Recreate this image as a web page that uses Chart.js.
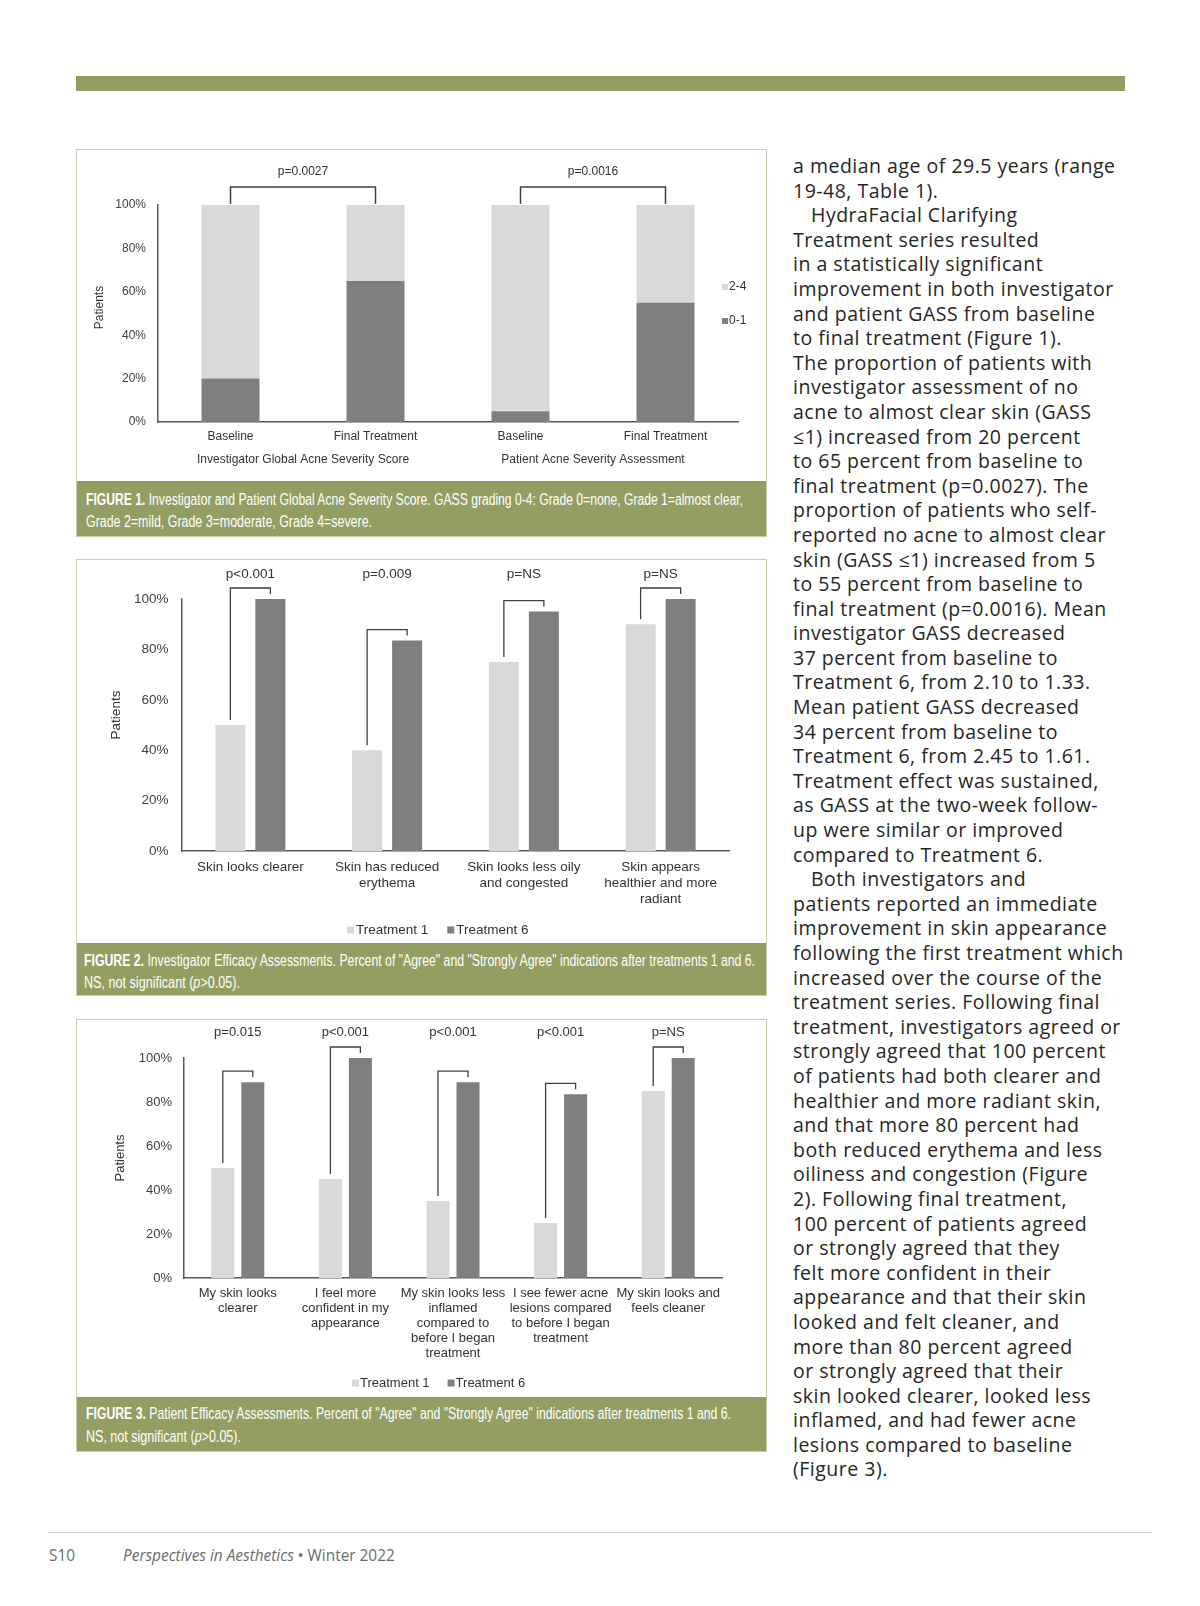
<!DOCTYPE html>
<html>
<head>
<meta charset="utf-8">
<script src="https://cdn.jsdelivr.net/npm/chart.js@4.4.1/dist/chart.umd.min.js"></script>
<style>
body { margin: 0; width: 1200px; height: 1606px; background: #fff; position: relative; overflow: hidden; font-family: "Liberation Sans", Arial, sans-serif; }
.topbar { position: absolute; left: 76px; top: 76px; width: 1049px; height: 15px; background: #949e62; }
.fig { position: absolute; left: 76px; width: 689px; border: 1px solid #c9ccad; background: #fff; }
.fig canvas { position: absolute; left: 0; top: 0; }
.cap { position: absolute; left: 0; width: 689px; background: #949e62; color: #fff; }
.cap span.l { position: absolute; display: inline-block; white-space: nowrap; transform-origin: 0 50%; font-family: "Liberation Sans Narrow", "Liberation Sans", Arial, sans-serif; font-size: 16px; line-height: 20px; }
.body { position: absolute; left: 793px; top: 154px; font-family: "Open Sans", sans-serif; font-size: 19.5px; letter-spacing: 0.5px; line-height: 24.6px; color: #262626; white-space: nowrap; }
.body .in { padding-left: 18px; }
.rule { position: absolute; left: 48px; top: 1532px; width: 1104px; height: 1px; background: #cfcfcf; }
.foot { position: absolute; top: 1546px; font-family: "Open Sans", sans-serif; font-size: 15.4px; line-height: 20px; color: #6b6b6b; white-space: nowrap; }
</style>
</head>
<body>
<div class="topbar"></div>

<div class="fig" style="top:149px;height:386px;">
  <canvas id="fig1" width="689" height="331"></canvas>
  <div class="cap" style="top:331px;height:55px;">
    <span class="l" data-w="657" style="left:9px;top:9px;"><b>FIGURE 1.</b> Investigator and Patient Global Acne Severity Score. GASS grading 0-4: Grade 0=none, Grade 1=almost clear,</span>
    <span class="l" data-w="286" style="left:9px;top:31px;">Grade 2=mild, Grade 3=moderate, Grade 4=severe.</span>
  </div>
</div>

<div class="fig" style="top:559px;height:435px;">
  <canvas id="fig2" width="689" height="383"></canvas>
  <div class="cap" style="top:383px;height:52px;">
    <span class="l" data-w="671" style="left:7px;top:8px;"><b>FIGURE 2.</b> Investigator Efficacy Assessments. Percent of "Agree" and "Strongly Agree" indications after treatments 1 and 6.</span>
    <span class="l" data-w="156" style="left:7px;top:30px;">NS, not significant (<i>p</i>&gt;0.05).</span>
  </div>
</div>

<div class="fig" style="top:1019px;height:431px;">
  <canvas id="fig3" width="689" height="377"></canvas>
  <div class="cap" style="top:377px;height:54px;">
    <span class="l" data-w="645" style="left:9px;top:7px;"><b>FIGURE 3.</b> Patient Efficacy Assessments. Percent of "Agree" and "Strongly Agree" indications after treatments 1 and 6.</span>
    <span class="l" data-w="155" style="left:9px;top:30px;">NS, not significant (<i>p</i>&gt;0.05).</span>
  </div>
</div>

<div class="body">
<div>a median age of 29.5 years (range</div>
<div>19-48, Table 1).</div>
<div class="in">HydraFacial Clarifying</div>
<div>Treatment series resulted</div>
<div>in a statistically significant</div>
<div>improvement in both investigator</div>
<div>and patient GASS from baseline</div>
<div>to final treatment (Figure 1).</div>
<div>The proportion of patients with</div>
<div>investigator assessment of no</div>
<div>acne to almost clear skin (GASS</div>
<div>≤1) increased from 20 percent</div>
<div>to 65 percent from baseline to</div>
<div>final treatment (p=0.0027). The</div>
<div>proportion of patients who self-</div>
<div>reported no acne to almost clear</div>
<div>skin (GASS ≤1) increased from 5</div>
<div>to 55 percent from baseline to</div>
<div>final treatment (p=0.0016). Mean</div>
<div>investigator GASS decreased</div>
<div>37 percent from baseline to</div>
<div>Treatment 6, from 2.10 to 1.33.</div>
<div>Mean patient GASS decreased</div>
<div>34 percent from baseline to</div>
<div>Treatment 6, from 2.45 to 1.61.</div>
<div>Treatment effect was sustained,</div>
<div>as GASS at the two-week follow-</div>
<div>up were similar or improved</div>
<div>compared to Treatment 6.</div>
<div class="in">Both investigators and</div>
<div>patients reported an immediate</div>
<div>improvement in skin appearance</div>
<div>following the first treatment which</div>
<div>increased over the course of the</div>
<div>treatment series. Following final</div>
<div>treatment, investigators agreed or</div>
<div>strongly agreed that 100 percent</div>
<div>of patients had both clearer and</div>
<div>healthier and more radiant skin,</div>
<div>and that more 80 percent had</div>
<div>both reduced erythema and less</div>
<div>oiliness and congestion (Figure</div>
<div>2). Following final treatment,</div>
<div>100 percent of patients agreed</div>
<div>or strongly agreed that they</div>
<div>felt more confident in their</div>
<div>appearance and that their skin</div>
<div>looked and felt cleaner, and</div>
<div>more than 80 percent agreed</div>
<div>or strongly agreed that their</div>
<div>skin looked clearer, looked less</div>
<div>inflamed, and had fewer acne</div>
<div>lesions compared to baseline</div>
<div>(Figure 3).</div>
</div>

<div class="rule"></div>
<div class="foot" style="left:49px;">S10</div>
<div class="foot" style="left:123px;"><i>Perspectives in Aesthetics</i> • Winter 2022</div>

<script>
// tick labels shared by the three charts
const yTickLabels = ['0%', '20%', '40%', '60%', '80%', '100%'];

// figure 1 - stacked GASS grades
const fig1Categories = ['Baseline', 'Final Treatment', 'Baseline', 'Final Treatment'];
const fig1Groups = ['Investigator Global Acne Severity Score', 'Patient Acne Severity Assessment'];
const fig1Grade01 = [20, 65, 5, 55];
const fig1Grade24 = [80, 35, 95, 45];
const fig1PValues = ['p=0.0027', 'p=0.0016'];

// figure 2 - investigator efficacy
const fig2Categories = [['Skin looks clearer'], ['Skin has reduced', 'erythema'], ['Skin looks less oily', 'and congested'], ['Skin appears', 'healthier and more', 'radiant']];
const fig2Treatment1 = [50, 40, 75, 90];
const fig2Treatment6 = [100, 83.5, 95, 100];
const fig2PValues = ['p<0.001', 'p=0.009', 'p=NS', 'p=NS'];

// figure 3 - patient efficacy
const fig3Categories = [['My skin looks', 'clearer'], ['I feel more', 'confident in my', 'appearance'], ['My skin looks less', 'inflamed', 'compared to', 'before I began', 'treatment'], ['I see fewer acne', 'lesions compared', 'to before I began', 'treatment'], ['My skin looks and', 'feels cleaner']];
const fig3Treatment1 = [50, 45, 35, 25, 85];
const fig3Treatment6 = [89, 100, 89, 83.5, 100];
const fig3PValues = ['p=0.015', 'p<0.001', 'p<0.001', 'p<0.001', 'p=NS'];

const LIGHT = '#d9d9d9';
const DARK = '#7f7f7f';
const FONT = '"Liberation Sans", Arial, sans-serif';

Chart.defaults.font.family = FONT;
Chart.defaults.color = '#333';

// brackets, p values, "Patients" title and legend
const extras = {
    id: 'extras',
    afterDatasetsDraw(chart, args, o) {
        const ctx = chart.ctx;
        const area = chart.chartArea;
        ctx.save();
        ctx.font = o.size + 'px ' + FONT;
        ctx.fillStyle = '#333';
        ctx.strokeStyle = '#404040';
        ctx.lineWidth = o.lineWidth;
        ctx.textBaseline = 'middle';

        o.pairs.forEach((p, i) => {
            const a = chart.getDatasetMeta(p[0]).data[p[1]];
            const b = chart.getDatasetMeta(p[2]).data[p[3]];
            const top = Math.min(a.y, b.y) - o.rise;
            ctx.beginPath();
            ctx.moveTo(a.x, a.y - o.gap);
            ctx.lineTo(a.x, top);
            ctx.lineTo(b.x, top);
            ctx.lineTo(b.x, b.y - o.gap);
            ctx.stroke();
            ctx.textAlign = 'center';
            ctx.fillText(o.pValues[i], (a.x + b.x) / 2, area.top - o.labelRise);
        });

        // y title
        ctx.save();
        ctx.translate(o.titleX, (area.top + area.bottom) / 2 - o.titleShift);
        ctx.rotate(-Math.PI / 2);
        ctx.textAlign = 'center';
        ctx.fillText('Patients', 0, 0);
        ctx.restore();

        // legend
        const L = o.legend;
        let x = L.x, y = L.y;
        L.order.forEach(i => {
            const ds = chart.data.datasets[i];
            ctx.fillStyle = ds.backgroundColor;
            ctx.fillRect(x, y - L.box / 2, L.box, L.box);
            ctx.fillStyle = '#333';
            ctx.textAlign = 'left';
            ctx.fillText(ds.label, x + L.box + L.textGap, y);
            if (L.vertical) {
                y += L.step;
            } else {
                x += L.box + L.textGap + ctx.measureText(ds.label).width + L.step;
            }
        });
        ctx.restore();
    }
};

function yAxis(width, size, pad) {
    return {
        min: 0,
        max: 100,
        afterFit: s => { s.width = width; },
        grid: {display: false, drawTicks: false},
        border: {display: true, color: '#595959', width: 1.5},
        ticks: {stepSize: 20, padding: pad, font: {size: size}, color: '#404040',
            callback: (v, i) => yTickLabels[i]}
    };
}

function xAxis(height, size, lh, pad) {
    return {
        afterFit: s => { s.height = height; },
        grid: {display: false, drawTicks: false},
        border: {display: true, color: '#595959', width: 1.5},
        ticks: {autoSkip: false, maxRotation: 0, padding: pad, font: {size: size, lineHeight: lh}, color: '#333'}
    };
}

// figure 1
const x1 = xAxis(24, 12, 1.2, 7);
x1.stacked = true;
const y1 = yAxis(81, 12, 12);
y1.stacked = true;
new Chart(document.getElementById('fig1'), {
    type: 'bar',
    data: {
        labels: fig1Categories,
        datasets: [
            {label: '0-1', data: fig1Grade01, backgroundColor: DARK, categoryPercentage: 1, barPercentage: 0.4},
            {label: '2-4', data: fig1Grade24, backgroundColor: LIGHT, categoryPercentage: 1, barPercentage: 0.4}
        ]
    },
    options: {
        responsive: false,
        animation: false,
        layout: {padding: {top: 55, right: 28, left: 0, bottom: 0}},
        scales: {
            x: x1,
            x2: {
                type: 'category',
                labels: fig1Groups,
                position: 'bottom',
                offset: true,
                weight: 1,
                afterFit: s => { s.height = 35; },
                grid: {display: false, drawTicks: false},
                border: {display: false},
                ticks: {autoSkip: false, maxRotation: 0, padding: 6, font: {size: 12}, color: '#333'}
            },
            y: y1
        },
        plugins: {
            legend: {display: false},
            tooltip: {enabled: false},
            extras: {
                size: 12, lineWidth: 1.5, rise: 18, gap: 1, labelRise: 33,
                pairs: [[1, 0, 1, 1], [1, 2, 1, 3]], pValues: fig1PValues,
                titleX: 23, titleShift: 6,
                legend: {x: 645, y: 137, box: 6, textGap: 1, step: 34, vertical: true, order: [1, 0]}
            }
        }
    },
    plugins: [extras]
});

// figure 2
new Chart(document.getElementById('fig2'), {
    type: 'bar',
    data: {
        labels: fig2Categories,
        datasets: [
            {label: 'Treatment 1', data: fig2Treatment1, backgroundColor: LIGHT, categoryPercentage: 0.585, barPercentage: 0.75},
            {label: 'Treatment 6', data: fig2Treatment6, backgroundColor: DARK, categoryPercentage: 0.585, barPercentage: 0.75}
        ]
    },
    options: {
        responsive: false,
        animation: false,
        layout: {padding: {top: 39, right: 37, left: 0, bottom: 0}},
        scales: {
            x: xAxis(92, 13.5, '16px', 8),
            y: yAxis(105, 13.5, 13.5)
        },
        plugins: {
            legend: {display: false},
            tooltip: {enabled: false},
            extras: {
                size: 13.5, lineWidth: 1.3, rise: 11, gap: 5, labelRise: 25,
                pairs: [[0, 0, 1, 0], [0, 1, 1, 1], [0, 2, 1, 2], [0, 3, 1, 3]], pValues: fig2PValues,
                titleX: 39, titleShift: 10,
                legend: {x: 270, y: 370, box: 7, textGap: 2, step: 19, vertical: false, order: [0, 1]}
            }
        }
    },
    plugins: [extras]
});

// figure 3
new Chart(document.getElementById('fig3'), {
    type: 'bar',
    data: {
        labels: fig3Categories,
        datasets: [
            {label: 'Treatment 1', data: fig3Treatment1, backgroundColor: LIGHT, categoryPercentage: 0.558, barPercentage: 0.767},
            {label: 'Treatment 6', data: fig3Treatment6, backgroundColor: DARK, categoryPercentage: 0.558, barPercentage: 0.767}
        ]
    },
    options: {
        responsive: false,
        animation: false,
        layout: {padding: {top: 38, right: 44, left: 0, bottom: 0}},
        scales: {
            x: xAxis(119, 13, '15px', 7.5),
            y: yAxis(107, 13, 12)
        },
        plugins: {
            legend: {display: false},
            tooltip: {enabled: false},
            extras: {
                size: 13, lineWidth: 1.3, rise: 11, gap: 5, labelRise: 26,
                pairs: [[0, 0, 1, 0], [0, 1, 1, 1], [0, 2, 1, 2], [0, 3, 1, 3], [0, 4, 1, 4]], pValues: fig3PValues,
                titleX: 43, titleShift: 10,
                legend: {x: 275, y: 363, box: 7, textGap: 1, step: 18, vertical: false, order: [0, 1]}
            }
        }
    },
    plugins: [extras]
});

// squeeze caption lines to the width they have in the print
document.querySelectorAll('.cap span.l').forEach(el => {
    const w = el.getBoundingClientRect().width;
    el.style.transform = 'scaleX(' + (parseFloat(el.dataset.w) / w) + ')';
});
</script>
</body>
</html>
